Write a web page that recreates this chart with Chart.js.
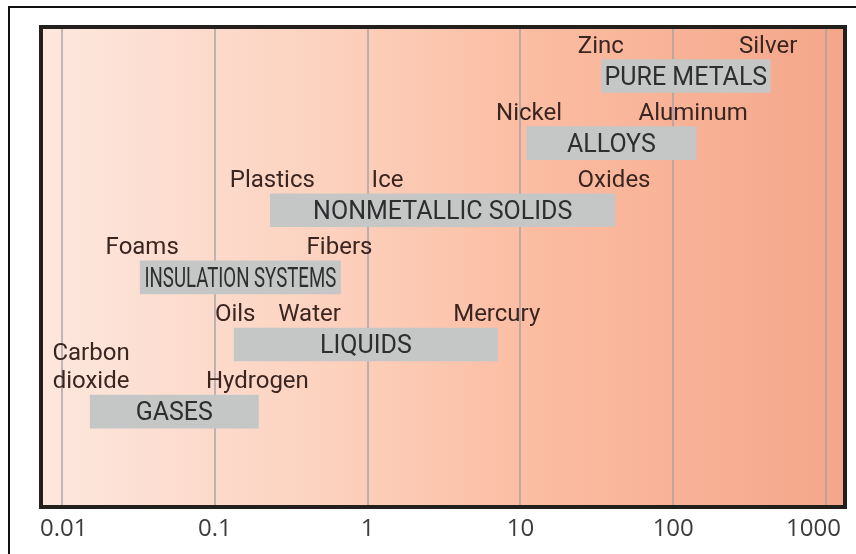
<!DOCTYPE html>
<html>
<head>
<meta charset="utf-8">
<script src="https://cdn.jsdelivr.net/npm/chart.js@4/dist/chart.umd.min.js"></script>
<style>
  html, body { margin: 0; padding: 0; background: #ffffff; }
  #wrap { position: relative; width: 856px; height: 554px; }
</style>
</head>
<body>
<div id="wrap"><canvas id="c"></canvas></div>
<script>
// ---- data ----
const categories = ['GASES', 'LIQUIDS', 'INSULATION SYSTEMS', 'NONMETALLIC SOLIDS', 'ALLOYS', 'PURE METALS'];
const rangeLow  = [0.0153, 0.134, 0.0325, 0.231, 11.0, 34];
const rangeHigh = [0.193, 7.1, 0.665, 41.6, 141, 431];
const tickValues = [0.01, 0.1, 1, 10, 100, 1000];
const tickLabels = ['0.01', '0.1', '1', '10', '100', '1000'];
const noteTexts  = ['Carbon\ndioxide', 'Hydrogen', 'Oils', 'Water', 'Mercury', 'Foams', 'Fibers',
                    'Plastics', 'Ice', 'Oxides', 'Nickel', 'Aluminum', 'Zinc', 'Silver'];
const noteValues = [0.0155, 0.19, 0.136, 0.417, 7.0, 0.0335, 0.655, 0.238, 1.35, 41, 11.4, 135, 33.6, 418];
const noteRows   = [0, 0, 1, 1, 1, 2, 2, 3, 3, 3, 4, 4, 5, 5];

// ---- styles ----
const BAR_THICK = 33;
const condensed = { 'INSULATION SYSTEMS': { size: 27, scaleX: 0.69 } };

const bgPlugin = {
  id: 'bg',
  beforeDraw(chart) {
    const { ctx, chartArea: a } = chart;
    ctx.save();
    ctx.fillStyle = '#ffffff';
    ctx.fillRect(0, 0, chart.width, chart.height);
    // outer thin frame (top & left visible)
    ctx.strokeStyle = '#111111';
    ctx.lineWidth = 2;
    ctx.beginPath();
    ctx.moveTo(9, chart.height);
    ctx.lineTo(9, 7);
    ctx.lineTo(chart.width, 7);
    ctx.stroke();
    // gradient background of plot
    const g = ctx.createLinearGradient(a.left, 0, a.right, 0);
    g.addColorStop(0, '#fde7de');
    g.addColorStop(0.35, '#fcd2bf');
    g.addColorStop(0.62, '#fbbca1');
    g.addColorStop(1, '#f4a68a');
    ctx.fillStyle = g;
    ctx.fillRect(a.left, a.top, a.right - a.left, a.bottom - a.top);
    ctx.restore();
  },
  beforeDatasetsDraw(chart) {
    const { ctx, chartArea: a } = chart;
    const xs = chart.scales.x;
    ctx.save();
    ctx.strokeStyle = 'rgba(165,160,165,0.7)';
    ctx.lineWidth = 2;
    tickValues.forEach(v => {
      const px = Math.round(xs.getPixelForValue(v));
      ctx.beginPath();
      ctx.moveTo(px, a.top);
      ctx.lineTo(px, a.bottom);
      ctx.stroke();
    });
    ctx.restore();
  },
  afterDatasetsDraw(chart) {
    const { ctx, chartArea: a } = chart;
    const xs = chart.scales.x, ys = chart.scales.y;
    ctx.save();
    // bar labels
    ctx.textAlign = 'center';
    ctx.textBaseline = 'alphabetic';
    ctx.fillStyle = '#2e2e30';
    categories.forEach((name, i) => {
      const cx = (xs.getPixelForValue(rangeLow[i]) + xs.getPixelForValue(rangeHigh[i])) / 2;
      const cy = ys.getPixelForValue(i);
      const c = condensed[name];
      const size = c ? c.size : 25;
      ctx.save();
      ctx.font = size + 'px Roboto';
      ctx.translate(cx, cy + size * 0.34);
      if (c) ctx.scale(c.scaleX, 1);
      ctx.fillText(name, 0, 0);
      ctx.restore();
    });
    // annotations above bars
    ctx.fillStyle = '#3a2521';
    ctx.font = '24px Roboto';
    noteTexts.forEach((t, k) => {
      const px = xs.getPixelForValue(noteValues[k]);
      const base = ys.getPixelForValue(noteRows[k]) - BAR_THICK / 2 - 7;
      const lines = t.split('\n');
      lines.forEach((ln, j) => {
        ctx.fillText(ln, px, base - (lines.length - 1 - j) * 28);
      });
    });
    // thick plot frame
    ctx.strokeStyle = '#231f1d';
    ctx.lineWidth = 4;
    ctx.strokeRect(a.left, a.top, a.right - a.left, a.bottom - a.top);
    // x tick labels
    ctx.font = '24px "Open Sans"';
    ctx.fillStyle = '#3c3c3c';
    ctx.textAlign = 'left';
    tickValues.forEach((v, k) => {
      const px = xs.getPixelForValue(v);
      const w = ctx.measureText(tickLabels[k]).width;
      let left = px - w / 2;
      left = Math.max(left, a.left - 1);
      left = Math.min(left, a.right - 4 - w);
      ctx.fillText(tickLabels[k], left, a.bottom + 29);
    });
    ctx.restore();
  }
};

new Chart(document.getElementById('c'), {
  type: 'bar',
  data: {
    datasets: [{
      data: categories.map((c, i) => ({ y: i, x: [rangeLow[i], rangeHigh[i]] })),
      backgroundColor: '#c5c6c6',
      borderWidth: 0,
      barThickness: BAR_THICK
    }]
  },
  options: {
    indexAxis: 'y',
    responsive: true,
    maintainAspectRatio: false,
    animation: false,
    layout: { padding: { left: 41, top: 27, right: 11, bottom: 47 } },
    scales: {
      x: { type: 'logarithmic', min: 0.00729, max: 1331, display: false, offset: false, bounds: 'data' },
      y: { type: 'linear', min: -1.42, max: 5.73, display: false, offset: false, bounds: 'data', grace: 0, beginAtZero: false }
    },
    plugins: { legend: { display: false }, tooltip: { enabled: false } }
  },
  plugins: [bgPlugin]
});
</script>
</body>
</html>
